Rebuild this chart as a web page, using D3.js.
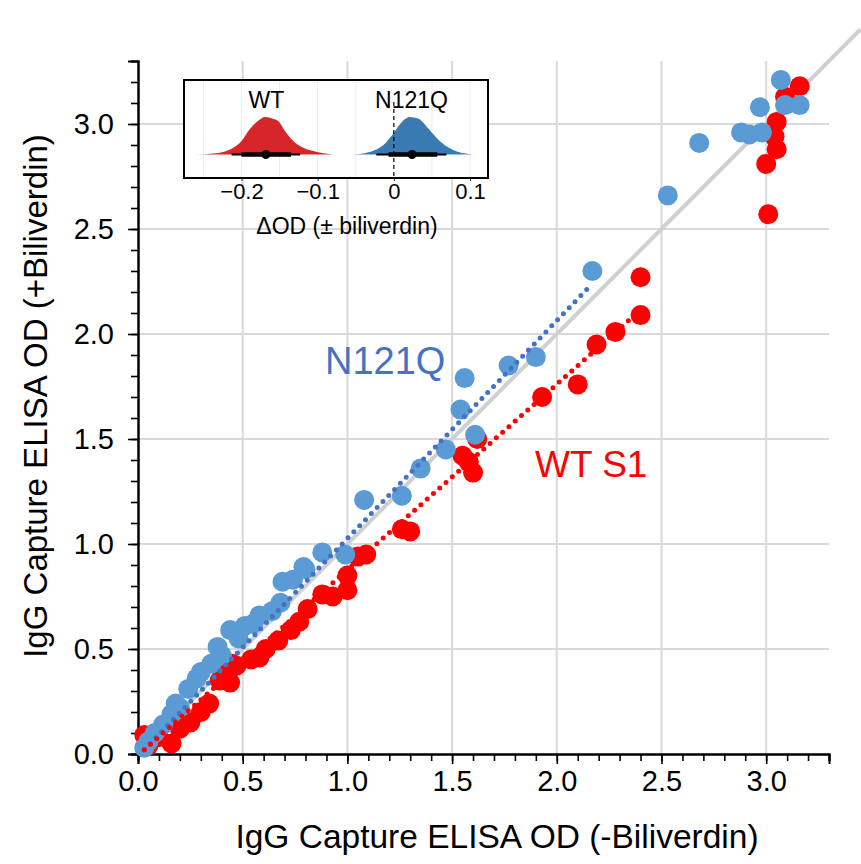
<!DOCTYPE html>
<html><head><meta charset="utf-8">
<script src="https://cdn.jsdelivr.net/npm/d3@7"></script>
<style>body{margin:0;background:#fff} text{font-family:Arial,"Liberation Sans",sans-serif}</style>
</head><body><svg id="c" width="861" height="864"></svg>
<script>
// ---- Data ----
const blueX = [0.03,0.05,0.08,0.12,0.16,0.18,0.20,0.24,0.28,0.30,0.35,0.38,0.40,0.44,0.48,0.51,0.55,0.58,0.64,0.68,0.69,0.74,0.79,0.80,0.88,0.99,1.08,1.26,1.35,1.47,1.54,1.56,1.61,1.77,1.90,2.17,2.53,2.68,2.88,2.92,2.98,2.97,3.07,3.09,3.16];
const blueY = [0.03,0.06,0.10,0.14,0.19,0.24,0.22,0.31,0.36,0.39,0.43,0.51,0.47,0.59,0.55,0.61,0.62,0.66,0.68,0.72,0.82,0.83,0.89,0.88,0.96,0.95,1.21,1.23,1.36,1.45,1.64,1.79,1.52,1.85,1.89,2.30,2.66,2.91,2.96,2.95,2.96,3.08,3.21,3.09,3.09];
const redX = [0.03,0.05,0.10,0.16,0.20,0.25,0.30,0.34,0.39,0.42,0.44,0.45,0.47,0.54,0.58,0.61,0.67,0.73,0.77,0.81,0.88,0.93,1.00,1.00,1.05,1.09,1.26,1.30,1.55,1.58,1.60,1.62,1.93,2.10,2.19,2.28,2.40,2.40,3.01,3.00,3.05,3.04,3.05,3.09,3.16];
const redY = [0.09,0.04,0.08,0.05,0.12,0.15,0.20,0.24,0.35,0.38,0.34,0.43,0.42,0.45,0.46,0.50,0.54,0.59,0.63,0.69,0.76,0.75,0.78,0.85,0.94,0.95,1.07,1.06,1.42,1.39,1.34,1.50,1.70,1.76,1.95,2.01,2.09,2.27,2.57,2.81,2.88,2.94,3.01,3.13,3.18];
const blueTrendX = [0.03, 2.17], blueTrendY = [0.02, 2.24];
const redTrendX = [0.03, 2.35], redTrendY = [0.02, 2.07];
const identityEnds = [0, 3.45];
const axisTicks = [0, 0.5, 1.0, 1.5, 2.0, 2.5, 3.0];
// inset
const wtDensX = [-0.259,-0.237,-0.224,-0.211,-0.200,-0.189,-0.178,-0.169,-0.158,-0.152,-0.143,-0.132,-0.119,-0.101,-0.080];
const wtDensY = [0,0.03,0.07,0.18,0.36,0.68,0.90,1.0,0.95,0.90,0.63,0.36,0.18,0.07,0];
const nDensX = [-0.055,-0.040,-0.027,-0.014,-0.001,0.012,0.021,0.032,0.043,0.056,0.069,0.082,0.106];
const nDensY = [0,0.03,0.10,0.25,0.55,0.90,1.0,0.96,0.75,0.45,0.22,0.09,0];
const wtInterval = {median:-0.168, inner:[-0.200,-0.135], outer:[-0.213,-0.123]};
const nInterval = {median:0.024, inner:[-0.007,0.057], outer:[-0.023,0.069]};
const insetTicks = [-0.2,-0.1,0,0.1];
const insetTickLabels = ["\u22120.2","\u22120.1","0","0.1"];
const insetGrid = [-0.25,-0.2,-0.15,-0.1,-0.05,0.05,0.1];

// ---- Layout ----
const svg = d3.select("#c");
svg.append("rect").attr("width",861).attr("height",864).attr("fill","#fff");
const x = d3.scaleLinear().domain([0,3.3]).range([138,829]);
const y = d3.scaleLinear().domain([0,3.3]).range([754,61]);

// grid
const g = svg.append("g");
g.selectAll(".vg").data(axisTicks.slice(1)).join("line")
  .attr("x1",d=>x(d)).attr("x2",d=>x(d)).attr("y1",y(0)).attr("y2",y(3.3))
  .attr("stroke","#d9d9d9").attr("stroke-width",2);
g.selectAll(".hg").data(axisTicks.slice(1)).join("line")
  .attr("y1",d=>y(d)).attr("y2",d=>y(d)).attr("x1",x(0)).attr("x2",x(3.3))
  .attr("stroke","#d9d9d9").attr("stroke-width",2);

// identity line
svg.append("line").attr("x1",x(identityEnds[0])).attr("y1",y(identityEnds[0]))
  .attr("x2",x(identityEnds[1])).attr("y2",y(identityEnds[1]))
  .attr("stroke","#d0d0d0").attr("stroke-width",4);

// axes
const xAxisMinor = d3.axisBottom(x).tickValues(d3.range(0,34).map(i=>i/10)).tickSize(7).tickFormat("");
const xAxisMajor = d3.axisBottom(x).tickValues(axisTicks).tickSize(10).tickFormat(d3.format(".1f")).tickPadding(6);
const yAxisMinor = d3.axisLeft(y).tickValues(d3.range(0,34).map(i=>i/10)).tickSize(7).tickFormat("");
const yAxisMajor = d3.axisLeft(y).tickValues(axisTicks).tickSize(10).tickFormat(d3.format(".1f")).tickPadding(14);
function styleAxis(sel){
  sel.select(".domain").attr("stroke","#000").attr("stroke-width",2);
  sel.selectAll(".tick line").attr("stroke","#000").attr("stroke-width",1.6);
  sel.selectAll("text").attr("font-size",29).attr("fill","#000").attr("font-family","Arial, 'Liberation Sans', sans-serif");
}
svg.append("g").attr("transform",`translate(0,${y(0)})`).call(xAxisMinor).call(styleAxis);
svg.append("g").attr("transform",`translate(0,${y(0)})`).call(xAxisMajor).call(styleAxis);
svg.append("g").attr("transform",`translate(${x(0)},0)`).call(yAxisMinor).call(styleAxis);
svg.append("g").attr("transform",`translate(${x(0)},0)`).call(yAxisMajor).call(styleAxis);

// points
const red = redX.map((v,i)=>[v,redY[i]]);
const blue = blueX.map((v,i)=>[v,blueY[i]]);
svg.append("g").selectAll("circle").data(red).join("circle")
  .attr("cx",d=>x(d[0])).attr("cy",d=>y(d[1])).attr("r",10).attr("fill","#ff0000");
svg.append("g").selectAll("circle").data(blue).join("circle")
  .attr("cx",d=>x(d[0])).attr("cy",d=>y(d[1])).attr("r",10).attr("fill","#5b9bd5");

// trend lines (dotted)
const line = d3.line().x(d=>x(d[0])).y(d=>y(d[1]));
svg.append("path").attr("d",line(blueTrendX.map((v,i)=>[v,blueTrendY[i]])))
  .attr("stroke","#4472c4").attr("stroke-width",5).attr("stroke-linecap","round")
  .attr("stroke-dasharray","0,8.4").attr("fill","none");
svg.append("path").attr("d",line(redTrendX.map((v,i)=>[v,redTrendY[i]])))
  .attr("stroke","#ff0000").attr("stroke-width",5).attr("stroke-linecap","round")
  .attr("stroke-dasharray","0,8.4").attr("fill","none");

// annotations
svg.append("text").attr("x",325).attr("y",374).attr("font-size",38).attr("fill","#4472c4").text("N121Q");
svg.append("text").attr("x",535).attr("y",477).attr("font-size",37).attr("fill","#ff0000").text("WT S1");

// axis titles
svg.append("text").attr("x",497).attr("y",848).attr("text-anchor","middle").attr("font-size",33.5).attr("fill","#000")
  .text("IgG Capture ELISA OD (-Biliverdin)");
svg.append("text").attr("transform","translate(47,396) rotate(-90)").attr("text-anchor","middle").attr("font-size",33).attr("fill","#000")
  .text("IgG Capture ELISA OD (+Biliverdin)");

// ---- Inset ----
const ix = d3.scaleLinear().domain([-0.2,0.1]).range([241.5,470]);
const iy = d3.scaleLinear().domain([0,1]).range([154.5,117]);
const box = {x0:184,y0:80,x1:488,y1:178};
const inset = svg.append("g");
inset.append("rect").attr("x",box.x0).attr("y",box.y0).attr("width",box.x1-box.x0).attr("height",box.y1-box.y0)
  .attr("fill","#fff");
inset.selectAll(".ig").data(insetGrid).join("line")
  .attr("x1",d=>ix(d)).attr("x2",d=>ix(d)).attr("y1",box.y0).attr("y2",box.y1)
  .attr("stroke","#ebebeb").attr("stroke-width",1);
const area = d3.area().x(d=>ix(d[0])).y0(iy(0)).y1(d=>iy(d[1])).curve(d3.curveMonotoneX);
inset.append("path").attr("d",area(wtDensX.map((v,i)=>[v,wtDensY[i]]))).attr("fill","#d7262a");
inset.append("path").attr("d",area(nDensX.map((v,i)=>[v,nDensY[i]]))).attr("fill","#3a7ab3");
inset.append("line").attr("x1",ix(0)).attr("x2",ix(0)).attr("y1",box.y0+22).attr("y2",box.y1)
  .attr("stroke","#000").attr("stroke-width",1.2).attr("stroke-dasharray","4,3");
[wtInterval,nInterval].forEach(iv=>{
  inset.append("line").attr("x1",ix(iv.outer[0])).attr("x2",ix(iv.outer[1])).attr("y1",iy(0)).attr("y2",iy(0))
    .attr("stroke","#000").attr("stroke-width",2);
  inset.append("line").attr("x1",ix(iv.inner[0])).attr("x2",ix(iv.inner[1])).attr("y1",iy(0)).attr("y2",iy(0))
    .attr("stroke","#000").attr("stroke-width",4.5);
  inset.append("circle").attr("cx",ix(iv.median)).attr("cy",iy(0)).attr("r",4.5).attr("fill","#000");
});
inset.append("rect").attr("x",box.x0).attr("y",box.y0).attr("width",box.x1-box.x0).attr("height",box.y1-box.y0)
  .attr("fill","none").attr("stroke","#000").attr("stroke-width",2);
inset.append("text").attr("x",266.5).attr("y",107.5).attr("text-anchor","middle").attr("font-size",23).text("WT");
inset.append("text").attr("x",411.5).attr("y",107.5).attr("text-anchor","middle").attr("font-size",23).text("N121Q");
const ia = d3.axisBottom(ix).tickValues(insetTicks).tickSize(3).tickFormat((d,i)=>insetTickLabels[i]).tickPadding(2);
const iaG = inset.append("g").attr("transform",`translate(0,${box.y1})`).call(ia);
iaG.select(".domain").remove();
iaG.selectAll(".tick line").attr("stroke","#333");
iaG.selectAll("text").attr("font-size",22).attr("fill","#000").attr("font-family","Arial, 'Liberation Sans', sans-serif");
inset.append("text").attr("x",347).attr("y",234).attr("text-anchor","middle").attr("font-size",23).text("ΔOD (± biliverdin)");
</script></body></html>
